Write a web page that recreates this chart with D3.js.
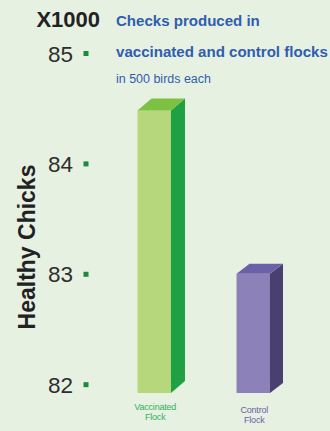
<!DOCTYPE html>
<html><head><meta charset="utf-8">
<script src="https://cdn.jsdelivr.net/npm/d3@7"></script>
<style>html,body{margin:0;padding:0;background:#e7f1e2;}svg{display:block;}</style>
</head><body>
<svg id="c" width="330" height="431"></svg>
<script>
const categories = ["Vaccinated Flock", "Control Flock"];
const values = [84.48, 83.0];
const tickValues = [82, 83, 84, 85];
const frontColors = ["#b6d77c", "#8c82b9"];
const sideColors = ["#1ea043", "#4a4070"];
const topColors = ["#7cc142", "#6b61a6"];
const labelColors = ["#33b05a", "#6a60a8"];

const svg = d3.select("#c");
const W = 330, H = 431;
const ff = "Liberation Sans, Arial, sans-serif";
svg.append("rect").attr("width", W).attr("height", H).attr("fill", "#e7f1e2");

const y = d3.scaleLinear().domain([81.92, 85]).range([393, 53]);
const x = d3.scaleBand().domain(categories).range([88, 319.5]).paddingInner(0.662).paddingOuter(0.5);
const dx = 14, dy = 12;

// axis ticks
const axis = d3.axisLeft(y).tickValues(tickValues).tickSize(0).tickPadding(0).tickFormat(d3.format("d"));
const ag = svg.append("g").attr("transform", "translate(73,0)").call(axis);
ag.select(".domain").remove();
ag.selectAll("text").attr("font-family", ff).attr("font-size", 22.5).attr("fill", "#2e2e2e").attr("dy", "0.36em").attr("x", 0);
ag.selectAll(".tick").append("rect").attr("x", 10.5).attr("y", -2.5).attr("width", 5).attr("height", 5).attr("fill", "#1b8a3c");

// bars
const bars = svg.append("g").selectAll("g").data(categories).join("g");
bars.each(function(c, i) {
  const g = d3.select(this);
  const x0 = x(c), w = x.bandwidth();
  const yt = y(values[i]), yb = y.range()[0];
  const ddx = i ? 13 : dx, ddy = i ? 10 : dy;
  g.append("rect").attr("x", x0).attr("y", yt).attr("width", w).attr("height", yb - yt).attr("fill", frontColors[i]);
  g.append("path").attr("d", `M${x0 + w},${yt} L${x0 + w + ddx},${yt - ddy} L${x0 + w + ddx},${yb - ddy} L${x0 + w},${yb} Z`).attr("fill", sideColors[i]);
  g.append("path").attr("d", `M${x0},${yt} L${x0 + ddx},${yt - ddy} L${x0 + w + ddx},${yt - ddy} L${x0 + w},${yt} Z`).attr("fill", topColors[i]);
  const words = c.split(" ");
  const cx = x0 + w / 2 + 1;
  const t = g.append("text").attr("x", cx).attr("y", yb + 16.5 + i * 3)
    .attr("text-anchor", "middle").attr("font-family", ff)
    .attr("font-size", 9).attr("letter-spacing", -0.2).attr("fill", labelColors[i]);
  words.forEach((wd, k) => t.append("tspan").attr("x", cx).attr("dy", k ? 10.5 : 0).text(wd));
});

// texts fitted to widths
function fitText(sel, target) {
  const n = sel.node();
  const fs = +sel.attr("font-size");
  const wd = n.getComputedTextLength();
  if (wd > 0) sel.attr("font-size", fs * target / wd);
  return sel;
}
svg.append("text").attr("x", 100).attr("y", 27).attr("text-anchor", "end").attr("font-family", ff).attr("font-weight", "bold").attr("font-size", 22).attr("fill", "#222").text("X1000");
fitText(svg.append("text").attr("x", 116).attr("y", 26).attr("font-family", ff).attr("font-weight", "bold").attr("font-size", 15).attr("fill", "#2f5db0").text("Checks produced in"), 144);
fitText(svg.append("text").attr("x", 116).attr("y", 57).attr("font-family", ff).attr("font-weight", "bold").attr("font-size", 15).attr("fill", "#2f5db0").text("vaccinated and control flocks"), 212);
fitText(svg.append("text").attr("x", 116).attr("y", 83).attr("font-family", ff).attr("font-size", 10).attr("fill", "#2f5db0").text("in 500 birds each"), 95);
fitText(svg.append("text").attr("transform", "translate(35,247) rotate(-90)").attr("text-anchor", "middle").attr("font-family", ff).attr("font-weight", "bold").attr("font-size", 23).attr("fill", "#222").text("Healthy Chicks"), 165);
</script>
</body></html>
